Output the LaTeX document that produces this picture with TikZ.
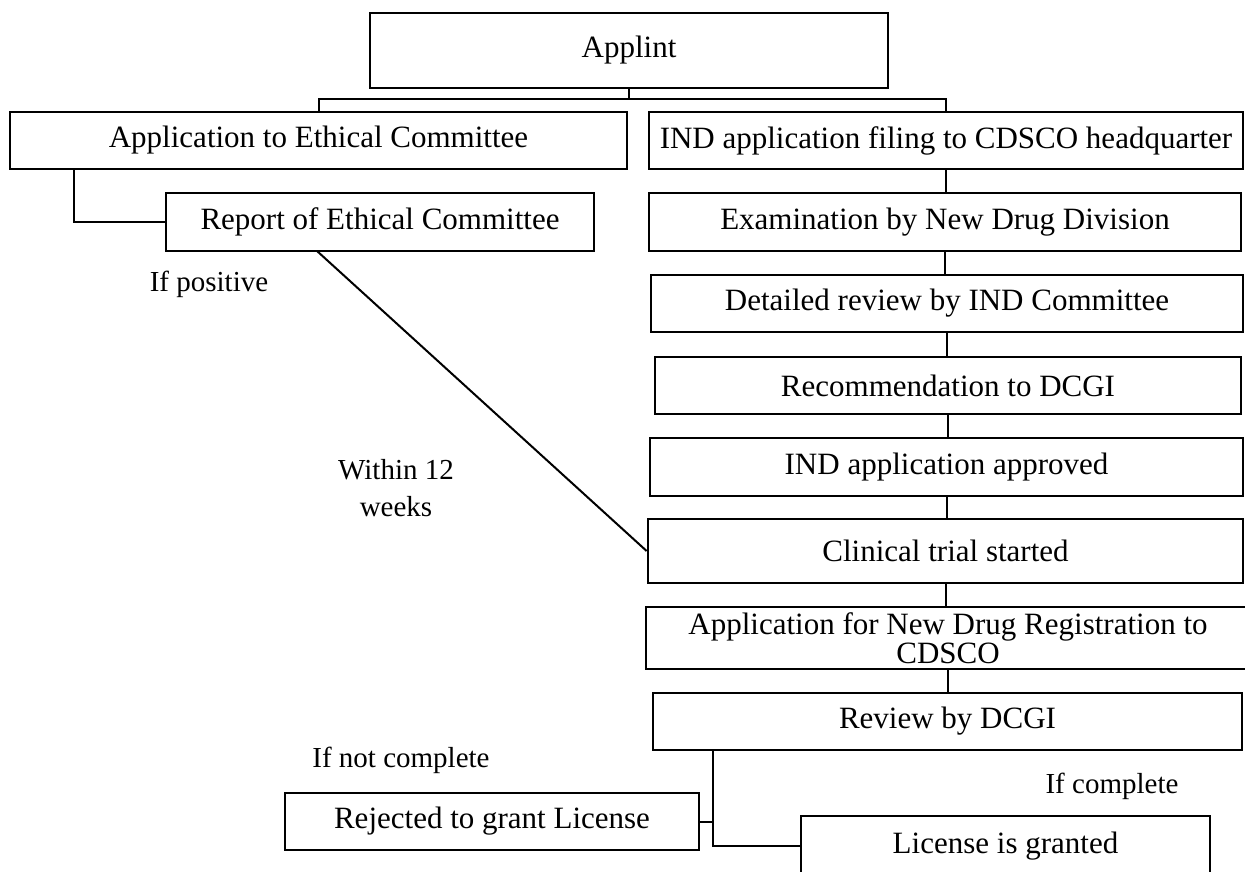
\documentclass[tikz,border=0pt]{standalone}
\usepackage{fontspec}
\usepackage{graphicx}
\setmainfont{Liberation Serif}
\newcommand\sx[1]{\scalebox{1.0}[1]{#1}}
\begin{document}
\begin{tikzpicture}[x=1pt,y=-1pt,
  box/.style={draw,line width=2.7pt,rectangle,inner sep=0pt,align=center,
    font=\fontsize{31}{30}\selectfont},
  lbl/.style={inner sep=0pt,align=center,font=\fontsize{29}{37}\selectfont},
  conn/.style={line width=2pt}]
\clip (0,0) rectangle (1245,871);
\fill[white] (0,0) rectangle (1245,871);
% boxes: center x, center y, width, height
\node[box,minimum width=518,minimum height=75] (applint) at (629,50.5) {\sx{Applint}};
\node[box,minimum width=617,minimum height=57] (ethapp) at (318.5,140.5) {\sx{Application to Ethical Committee}};
\node[box,minimum width=594,minimum height=57] (indfile) at (946,140.5) {\sx{IND application filing to CDSCO headquarter}};
\node[box,minimum width=428,minimum height=58] (report) at (380,222) {\sx{Report of Ethical Committee}};
\node[box,minimum width=592,minimum height=58] (exam) at (945,222) {\sx{Examination by New Drug Division}};
\node[box,minimum width=592,minimum height=57] (detail) at (947,303.5) {\sx{Detailed review by IND Committee}};
\node[box,minimum width=586,minimum height=57] (recomm) at (948,385.5) {\sx{Recommendation to DCGI}};
\node[box,minimum width=593,minimum height=58] (approved) at (946.5,467) {\sx{IND application approved}};
\node[box,minimum width=595,minimum height=64] (clinical) at (945.5,551) {\sx{Clinical trial started}};
\node[box,minimum width=604,minimum height=62] (ndr) at (948,638) {\sx{Application for New Drug Registration to}\\[-1pt]\sx{CDSCO}};
\node[box,minimum width=589,minimum height=57] (review) at (947.5,721.5) {\sx{Review by DCGI}};
\node[box,minimum width=414,minimum height=57] (rejected) at (492,821.5) {\sx{Rejected to grant License}};
\node[box,minimum width=409,minimum height=60] (license) at (1005.5,846) {\sx{License is granted}};
% labels
\node[lbl] (lpos) at (209,284) {\sx{If positive}};
\node[lbl] (lweeks) at (396,488) {\sx{Within 12}\\\sx{weeks}};
\node[lbl] (lnot) at (401,760) {\sx{If not complete}};
\node[lbl] (lcomp) at (1112,786) {\sx{If complete}};
% connectors
\coordinate (split) at (629,99);
\draw[conn] (applint.south) -- (split);
\draw[conn] (ethapp.north) |- (split) -| (indfile.north);
\coordinate (ec) at (74,169);
\draw[conn] (ec) |- (report.west);
\coordinate (rb) at (317,251);
\draw[conn] (rb) -- (clinical.west);
\draw[conn] (indfile.south) -- (indfile.south |- exam.north);
\draw[conn] (exam.south) -- (exam.south |- detail.north);
\draw[conn] (detail.south) -- (detail.south |- recomm.north);
\draw[conn] (recomm.south) -- (recomm.south |- approved.north);
\draw[conn] (approved.south) -- (approved.south |- clinical.north);
\draw[conn] (clinical.south) -- (clinical.south |- ndr.north);
\draw[conn] (ndr.south) -- (ndr.south |- review.north);
\coordinate (rv) at (713,750);
\draw[conn] (rv) |- (license.west);
\draw[conn] (rejected.east) -- (rejected.east -| rv);
\end{tikzpicture}
\end{document}
